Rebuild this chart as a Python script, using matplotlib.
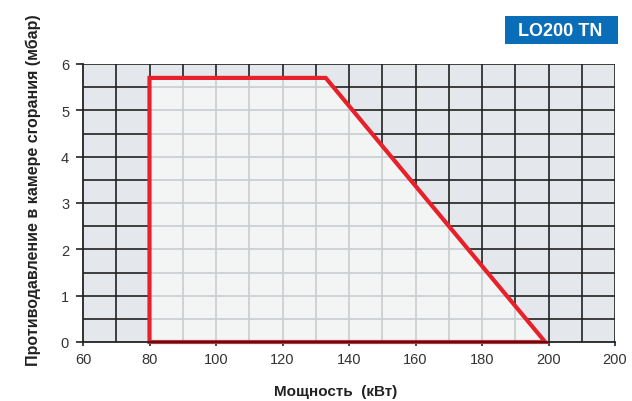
import matplotlib
matplotlib.use("Agg")
import matplotlib.pyplot as plt
from matplotlib.patches import Polygon, Rectangle
from matplotlib.lines import Line2D
import numpy as np

plt.rcParams['font.family'] = ['Liberation Sans', 'DejaVu Sans']

# Data
poly_x = [80, 80, 133, 199]
poly_y = [0, 5.7, 5.7, 0]
x_ticks = [60, 80, 100, 120, 140, 160, 180, 200, 220]
x_tick_labels = ["60", "80", "100", "120", "140", "160", "180", "200", "200"]
y_ticks = [0, 1, 2, 3, 4, 5, 6]
title = "LO200 TN"
xlabel = "Мощность  (кВт)"
ylabel = "Противодавление в камере сгорания (мбар)"

fig = plt.figure(figsize=(6.32, 4.02), dpi=100)
ax = fig.add_axes([83/632, 59/402, 532/632, 278/402])
xmin, xmax, ymin, ymax = 60, 220, 0, 6
ax.set_xlim(xmin, xmax)
ax.set_ylim(ymin, ymax)
ax.set_facecolor('#e4e7eb')

dark = '#222222'
for xv in np.arange(70, 221, 10):
    ax.axvline(xv, color=dark, lw=1.2, zorder=1)
for yv in np.arange(0.5, 6.01, 0.5):
    ax.axhline(yv, color=dark, lw=1.2, zorder=1)

pts = list(zip(poly_x, poly_y))
fill = Polygon(pts, closed=True, facecolor='#f3f4f4', edgecolor='none', zorder=2)
ax.add_patch(fill)
clip = Polygon(pts, closed=True, transform=ax.transData, facecolor='none', edgecolor='none')
ax.add_patch(clip)
for xv in np.arange(70, 221, 10):
    ln = Line2D([xv, xv], [ymin, ymax], color='#c8cdd0', lw=1.2, zorder=3)
    ax.add_line(ln)
    ln.set_clip_path(clip)
for yv in np.arange(0.5, 6.01, 0.5):
    ln = Line2D([xmin, xmax], [yv, yv], color='#c8cdd0', lw=1.2, zorder=3)
    ax.add_line(ln)
    ln.set_clip_path(clip)

ax.add_patch(Polygon(pts, closed=True, facecolor='none', edgecolor='#e8202a',
                     lw=3, joinstyle='miter', zorder=5, clip_on=False))

for s in ['top', 'right']:
    ax.spines[s].set_visible(False)
ax.spines['left'].set_color(dark)
ax.spines['bottom'].set_color(dark)
ax.spines['left'].set_linewidth(1.3)
ax.spines['bottom'].set_linewidth(1.3)
ax.spines['left'].set_zorder(6)
ax.spines['bottom'].set_zorder(6)

ax.set_xticks(x_ticks)
ax.set_xticklabels(x_tick_labels)
ax.set_yticks(y_ticks)
ax.tick_params(axis='both', labelsize=10.5, labelcolor='#333333', color=dark, width=1.2, direction='out')
ax.tick_params(axis='y', length=5, pad=5)
ax.tick_params(axis='x', length=3, pad=4)

fig.text(336/632, 1 - 392/402, xlabel, fontsize=11, fontweight='bold', color='#222222',
         ha='center', va='center')
fig.text(33/632, 1 - 190/402, ylabel, fontsize=11.5, fontweight='bold', color='#222222',
         ha='center', va='center', rotation=90)

# Title box
fig.patches.append(Rectangle((505/632, 1 - 45/402), 113/632, 28/402, transform=fig.transFigure,
                             facecolor='#0a6db8', edgecolor='none'))
fig.text(560/632, 1 - 31/402, title, color='white', fontsize=13, fontweight='bold',
         ha='center', va='center')

fig.savefig('out.png', dpi=100)
